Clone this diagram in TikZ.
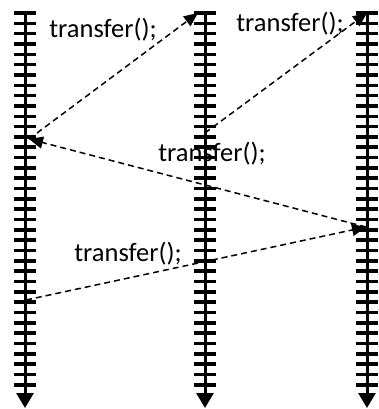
\documentclass[tikz,border=0pt]{standalone}
\usepackage{fontspec}
\setmainfont{Carlito}
\usetikzlibrary{arrows.meta}
\begin{document}
\begin{tikzpicture}[x=1pt,y=-1pt,
  lifeline/.style={line width=3pt,-{Triangle[length=15pt,width=17pt]}},
  rung/.style={line width=3.6pt},
  msg/.style={line width=1.5pt,dash pattern=on 6pt off 4pt,-{Triangle[length=14pt,width=12pt]}},
  lbl/.style={font=\fontsize{26.5}{31}\selectfont,anchor=base,inner sep=0pt}]
\useasboundingbox (0,0) rectangle (379,409);
% labels
\node[lbl] (t1) at (103,38) {transfer();};
\node[lbl] (t2) at (290,32) {transfer();};
\node[lbl] (t3) at (212,161) {transfer();};
\node[lbl] (t4) at (128,261) {transfer();};
% message end points
\coordinate (L1) at (29,139);
\coordinate (M0) at (198,13);
\coordinate (M1) at (205,133);
\coordinate (R0) at (367,13);
\coordinate (R1) at (366,227);
\coordinate (L2) at (26,300);
\draw[msg] (L1) -- (M0);
\draw[msg] (M1) -- (R0);
\draw[msg] (R1) -- (L1);
\draw[msg] (L2) -- (R1);
% lifelines
\foreach \n/\x in {A/25,B/205,C/367}{
  \coordinate (\n top) at (\x,11);
  \coordinate (\n bot) at (\x,408);
  \draw[lifeline] (\n top) -- (\n bot);
  \foreach \k in {0,...,36}{
    \draw[rung] (\x-11,13+10.33*\k) -- (\x+11,13+10.33*\k);
  }
}
\end{tikzpicture}
\end{document}
